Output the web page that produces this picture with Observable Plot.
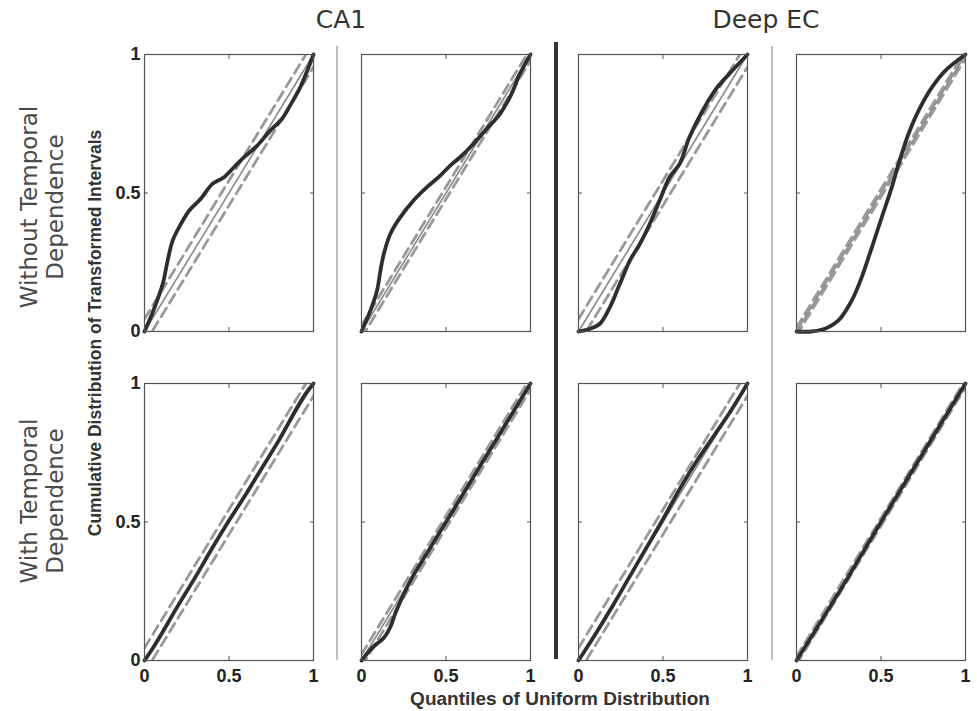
<!DOCTYPE html>
<html>
<head>
<meta charset="utf-8">
<script src="https://cdn.jsdelivr.net/npm/d3@7"></script>
<script src="https://cdn.jsdelivr.net/npm/@observablehq/plot@0.6"></script>
<style>
  html, body { margin: 0; padding: 0; background: #fff; }
  #wrap { position: relative; width: 977px; height: 711px; overflow: hidden; background: #fff; }
  .abs { position: absolute; }
  .title { font-family: "DejaVu Sans", sans-serif; font-size: 25px; line-height: 25px; color: #333; white-space: nowrap; transform: translate(-50%, 0); }
  .rowlab { font-family: "DejaVu Sans", sans-serif; font-size: 23px; color: #4a4a4a; line-height: 26px; text-align: center; white-space: nowrap; transform: translate(-50%, -50%) rotate(-90deg); }
  .axtitle { font-family: "Liberation Sans", Arial, sans-serif; font-weight: bold; color: #333; white-space: nowrap; }
</style>
</head>
<body>
<div id="wrap"></div>
<script>
// ---------------- data ----------------
const columnTitles = ["CA1", "Deep EC"];
const rowTitles = [["Without Temporal", "Dependence"], ["With Temporal", "Dependence"]];
const yAxisTitle = "Cumulative Distribution of Transformed Intervals";
const xAxisTitle = "Quantiles of Uniform Distribution";
const tickValues = [0, 0.5, 1];
const tickLabels = ["0", "0.5", "1"];
const diagX = [0, 1];
const diagY = [0, 1];

// KS 95% confidence band half-width per panel [row][col]
const bandRow1 = [0.045, 0.022, 0.045, 0.014];
const bandRow2 = [0.045, 0.022, 0.045, 0.014];

// Empirical KS curves (model quantiles vs uniform quantiles)
const r1c1X = [0, 0.053, 0.108, 0.137, 0.167, 0.216, 0.265, 0.333, 0.402, 0.471, 0.529, 0.588, 0.667, 0.745, 0.814, 0.873, 0.922, 1];
const r1c1Y = [0, 0.076, 0.172, 0.256, 0.329, 0.389, 0.437, 0.479, 0.533, 0.557, 0.593, 0.629, 0.671, 0.726, 0.768, 0.828, 0.882, 1];

const r1c2X = [0, 0.053, 0.092, 0.112, 0.132, 0.171, 0.23, 0.308, 0.387, 0.466, 0.525, 0.583, 0.662, 0.741, 0.82, 0.888, 0.937, 1];
const r1c2Y = [0, 0.076, 0.148, 0.22, 0.28, 0.353, 0.413, 0.473, 0.521, 0.563, 0.599, 0.629, 0.677, 0.732, 0.786, 0.858, 0.93, 1];

const r1c3X = [0, 0.069, 0.127, 0.186, 0.245, 0.304, 0.363, 0.422, 0.48, 0.539, 0.598, 0.657, 0.735, 0.814, 0.892, 1];
const r1c3Y = [0, 0.01, 0.028, 0.088, 0.172, 0.256, 0.316, 0.389, 0.473, 0.557, 0.605, 0.702, 0.798, 0.876, 0.93, 1];

const r1c4X = [0, 0.089, 0.168, 0.248, 0.327, 0.386, 0.446, 0.505, 0.564, 0.604, 0.663, 0.723, 0.802, 0.881, 1];
const r1c4Y = [0, 0, 0.01, 0.04, 0.112, 0.196, 0.304, 0.413, 0.521, 0.605, 0.714, 0.798, 0.882, 0.942, 1];

const r2c1X = [0, 0.05, 0.1, 0.2, 0.3, 0.4, 0.5, 0.6, 0.7, 0.8, 0.9, 0.95, 1];
const r2c1Y = [0, 0.045, 0.095, 0.2, 0.3, 0.405, 0.505, 0.6, 0.7, 0.8, 0.91, 0.96, 1];

const r2c2X = [0, 0.04, 0.08, 0.13, 0.17, 0.2, 0.25, 0.3, 0.4, 0.5, 0.6, 0.7, 0.8, 0.9, 1];
const r2c2Y = [0, 0.03, 0.055, 0.08, 0.12, 0.17, 0.24, 0.3, 0.4, 0.5, 0.6, 0.7, 0.8, 0.9, 1];

const r2c3X = [0, 0.1, 0.2, 0.3, 0.4, 0.5, 0.6, 0.7, 0.8, 0.9, 1];
const r2c3Y = [0, 0.095, 0.195, 0.3, 0.405, 0.51, 0.62, 0.72, 0.81, 0.9, 1];

const r2c4X = [0, 0.25, 0.5, 0.75, 1];
const r2c4Y = [0, 0.245, 0.5, 0.75, 1];

const curvesX = [[r1c1X, r1c2X, r1c3X, r1c4X], [r2c1X, r2c2X, r2c3X, r2c4X]];
const curvesY = [[r1c1Y, r1c2Y, r1c3Y, r1c4Y], [r2c1Y, r2c2Y, r2c3Y, r2c4Y]];
const bands = [bandRow1, bandRow2];

// ---------------- layout ----------------
const wrap = document.getElementById("wrap");
const PW = 169, PH = 277;
const frameLeft = [143.5, 360.8, 578.2, 795.5];
const frameTop = [54, 382.5];
const ML = 44, MR = 8, MT = 8, MB = 36;

const fmt = d => tickLabels[tickValues.indexOf(d)];
const tickStroke = "#555";

for (let r = 0; r < 2; r++) {
  for (let c = 0; c < 4; c++) {
    const xs = curvesX[r][c], ys = curvesY[r][c];
    const curve = xs.map((x, i) => ({x, y: ys[i]}));
    const diag = diagX.map((x, i) => ({x, y: diagY[i]}));
    const d = bands[r][c];
    const upper = diagX.map((x, i) => ({x, y: diagY[i] + d}));
    const lower = diagX.map((x, i) => ({x, y: diagY[i] - d}));
    const marks = [
      Plot.line(upper, {x: "x", y: "y", stroke: "#999", strokeWidth: 2.8, strokeDasharray: "10,6", clip: true}),
      Plot.line(lower, {x: "x", y: "y", stroke: "#999", strokeWidth: 2.8, strokeDasharray: "10,6", clip: true}),
      Plot.line(diag, {x: "x", y: "y", stroke: "#8a8a8a", strokeWidth: 1.6}),
      Plot.line(curve, {x: "x", y: "y", stroke: "#2e2e2e", strokeWidth: 3.8, curve: "catmull-rom", strokeLinecap: "round", strokeLinejoin: "round"}),
      Plot.frame({stroke: "#555", strokeWidth: 1.2}),
      // inward ticks on all four sides
      Plot.axisX({anchor: "bottom", ticks: tickValues, tickSize: 4, dy: -4, fill: "none", stroke: tickStroke, label: null}),
      Plot.axisX({anchor: "top", ticks: tickValues, tickSize: 4, dy: 4, fill: "none", stroke: tickStroke, label: null}),
      Plot.axisY({anchor: "left", ticks: tickValues, tickSize: 4, dx: 4, fill: "none", stroke: tickStroke, label: null}),
      Plot.axisY({anchor: "right", ticks: tickValues, tickSize: 4, dx: -4, fill: "none", stroke: tickStroke, label: null})
    ];
    if (r === 1) {
      marks.push(Plot.axisX({anchor: "bottom", ticks: tickValues, tickSize: 0, tickPadding: 9, tickFormat: fmt, label: null,
        fill: "#222", fontSize: 18, fontWeight: "bold"}));
    }
    if (c === 0) {
      marks.push(Plot.axisY({anchor: "left", ticks: tickValues, tickSize: 0, tickPadding: 4, tickFormat: fmt, label: null,
        fill: "#222", fontSize: 18, fontWeight: "bold"}));
    }
    const plot = Plot.plot({
      width: PW + ML + MR,
      height: PH + MT + MB,
      marginLeft: ML, marginRight: MR, marginTop: MT, marginBottom: MB,
      style: {fontFamily: "'Liberation Sans', Arial, sans-serif", background: "transparent", overflow: "visible"},
      x: {domain: [0, 1]},
      y: {domain: [0, 1]},
      marks
    });
    plot.classList.add("abs");
    plot.style.left = (frameLeft[c] - ML) + "px";
    plot.style.top = (frameTop[r] - MT) + "px";
    wrap.appendChild(plot);
  }
}

// separators
function addDiv(cls, css) {
  const el = document.createElement("div");
  el.className = cls;
  Object.assign(el.style, css);
  wrap.appendChild(el);
  return el;
}
addDiv("abs", {left: "336px", top: "46px", width: "1.5px", height: "614px", background: "#bdbdbd"});
addDiv("abs", {left: "771px", top: "46px", width: "1.5px", height: "614px", background: "#bdbdbd"});
addDiv("abs", {left: "553.5px", top: "42px", width: "4.5px", height: "617px", background: "#333"});

// column titles
addDiv("abs title", {left: "341px", top: "7px"}).textContent = columnTitles[0];
addDiv("abs title", {left: "766px", top: "7px"}).textContent = columnTitles[1];

// row titles
addDiv("abs rowlab", {left: "42px", top: "207px"}).innerHTML = rowTitles[0].join("<br>");
addDiv("abs rowlab", {left: "42px", top: "501px"}).innerHTML = rowTitles[1].join("<br>");

// axis titles
const yt = addDiv("abs axtitle", {left: "95px", top: "333px", fontSize: "17.5px", transform: "translate(-50%, -50%) rotate(-90deg)"});
yt.textContent = yAxisTitle;
const xt = addDiv("abs axtitle", {left: "560px", top: "699px", fontSize: "19px", transform: "translate(-50%, -50%)"});
xt.textContent = xAxisTitle;
</script>
</body>
</html>
